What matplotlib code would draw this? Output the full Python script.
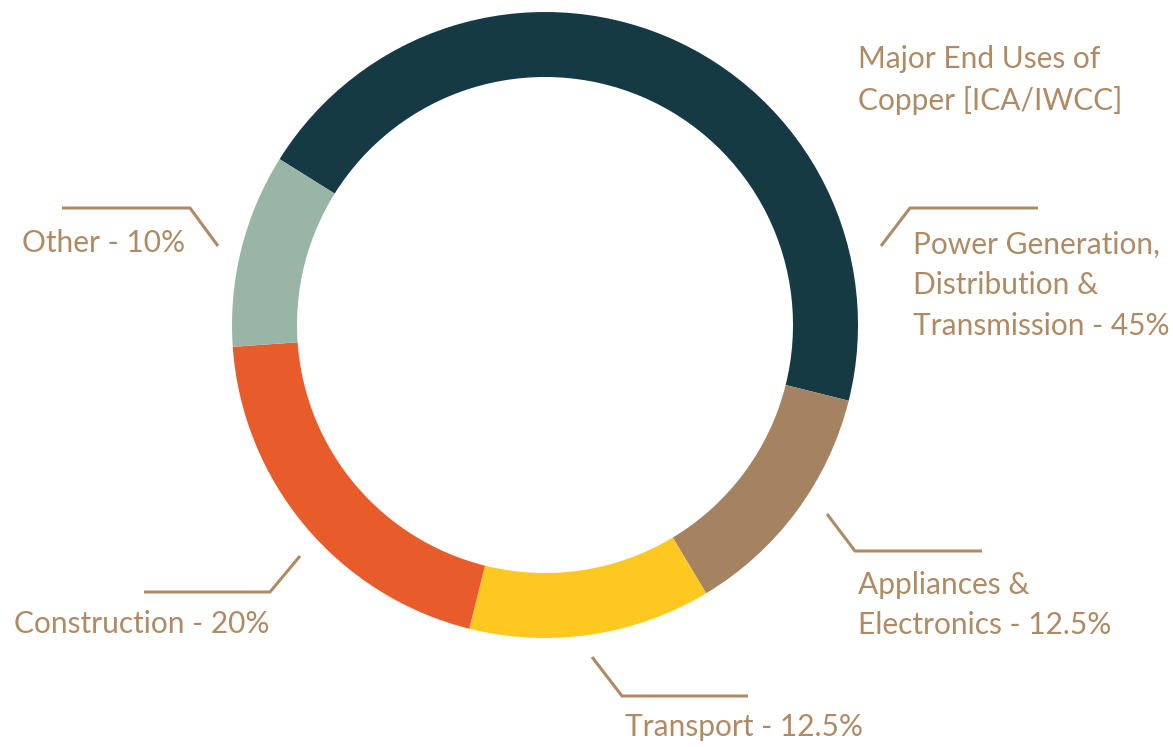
import matplotlib
matplotlib.use("Agg")
import matplotlib.pyplot as plt

# ── Data ─────────────────────────────────────────────────────────────────────
categories = ["Power Generation, Distribution & Transmission", "Appliances & Electronics",
              "Transport", "Construction", "Other"]
shares     = [45, 12.5, 12.5, 20, 10]
colors     = ["#163a44", "#a68360", "#fdc921", "#e85b2b", "#98b5a5"]
labels     = ["Power Generation,\nDistribution &\nTransmission - 45%",
              "Appliances &\nElectronics - 12.5%",
              "Transport - 12.5%",
              "Construction - 20%",
              "Other - 10%"]
title      = "Major End Uses of\nCopper [ICA/IWCC]"

W, H = 1173, 747
TXT  = "#b08a62"
plt.rcParams["font.family"] = ["Lato", "DejaVu Sans"]

fig = plt.figure(figsize=(W / 100, H / 100), dpi=100)
ax  = fig.add_axes([0, 0, 1, 1])

def py(y):  # pixel-from-top -> data y
    return H - y

ax.pie(shares, colors=colors, startangle=148, counterclock=False,
       center=(545, py(325)), radius=313, frame=True,
       wedgeprops=dict(width=65, linewidth=0))
ax.set_xlim(0, W); ax.set_ylim(0, H)
ax.set_aspect("equal"); ax.axis("off")

# label text: (x left, y centre of block)
label_pos = [(913, 285), (858, 605), (625, 727), (14, 624), (22, 243)]
for lab, (x, y) in zip(labels, label_pos):
    ax.text(x, py(y), lab, color=TXT, fontsize=21.5, ha="left", va="center",
            linespacing=1.55)

ax.text(858, py(80), title, color=TXT, fontsize=21.5, ha="left", va="center",
        linespacing=1.55)

# leader lines (pixel coords)
leaders = [
    [(881, 246), (910, 208), (1038, 208)],
    [(827, 514), (855, 551), (982, 551)],
    [(592, 657), (622, 696), (748, 696)],
    [(300, 556), (270, 592), (144, 592)],
    [(218, 246), (190, 208), (62, 208)],
]
for pts in leaders:
    xs = [p[0] for p in pts]; ys = [py(p[1]) for p in pts]
    ax.plot(xs, ys, color=TXT, lw=2.2, solid_capstyle="butt")

fig.savefig("out.png", dpi=100, facecolor="white")
